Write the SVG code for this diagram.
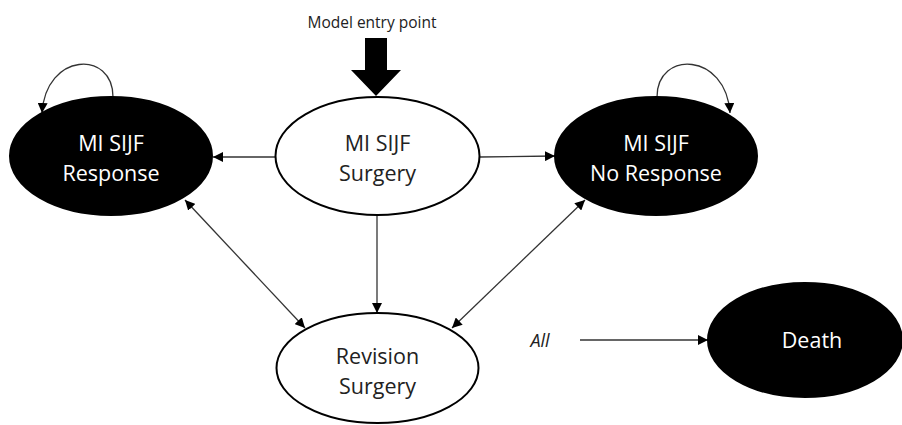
<svg xmlns="http://www.w3.org/2000/svg" width="902" height="425" viewBox="0 0 902 425">
<defs>
<marker id="ah" viewBox="0 0 10 10" refX="10" refY="5" markerWidth="10" markerHeight="10" markerUnits="userSpaceOnUse" orient="auto-start-reverse">
<path d="M0,0 L10,5 L0,10 z" fill="#000"/>
</marker>
<style>
.dark{fill:#000;stroke:#000;stroke-width:2}
.light{fill:#fff;stroke:#000;stroke-width:2}
.lbl{font-family:"Open Sans","Liberation Sans",sans-serif;font-size:21.5px;text-anchor:middle}
.wt{fill:#fff}
.bk{fill:#222}
.conn{stroke:#333;stroke-width:1.3;fill:none}
</style>
</defs>
<rect width="902" height="425" fill="#fff"/>
<g id="entry">
<text x="372" y="28" font-family="'Open Sans','Liberation Sans',sans-serif" font-size="15.5" text-anchor="middle" fill="#222">Model entry point</text>
<path d="M365,38 L387,38 L387,70 L401,70 L376,96 L351,70 L365,70 z" fill="#000"/>
</g>
<g id="connectors">
<path class="conn" d="M275,157 L213,157" marker-end="url(#ah)"/>
<path class="conn" d="M480,157 L555,156" marker-end="url(#ah)"/>
<path class="conn" d="M377,215 L377,313" marker-end="url(#ah)"/>
<path class="conn" d="M185,200 L305,328" marker-start="url(#ah)" marker-end="url(#ah)"/>
<path class="conn" d="M585,200 L452,328" marker-start="url(#ah)" marker-end="url(#ah)"/>
<path class="conn" d="M113,97 C113,50 46,52 42,113" marker-end="url(#ah)"/>
<path class="conn" d="M657,97 C657,50 726,52 730,113" marker-end="url(#ah)"/>
<path class="conn" d="M580,340 L708,340" marker-end="url(#ah)"/>
</g>
<g id="response">
<ellipse class="dark" cx="111" cy="156" rx="101" ry="59"/>
<text class="lbl wt" x="111" y="151">MI SIJF</text>
<text class="lbl wt" x="111" y="181">Response</text>
</g>
<g id="surgery">
<ellipse class="light" cx="377.5" cy="156" rx="102" ry="59"/>
<text class="lbl bk" x="377.5" y="151">MI SIJF</text>
<text class="lbl bk" x="377.5" y="181">Surgery</text>
</g>
<g id="noresponse">
<ellipse class="dark" cx="656" cy="156" rx="101" ry="59"/>
<text class="lbl wt" x="656" y="151">MI SIJF</text>
<text class="lbl wt" x="656" y="181">No Response</text>
</g>
<g id="revision">
<ellipse class="light" cx="377.5" cy="368" rx="101" ry="55"/>
<text class="lbl bk" x="377.5" y="364">Revision</text>
<text class="lbl bk" x="377.5" y="394">Surgery</text>
</g>
<g id="death">
<ellipse class="dark" cx="805" cy="340" rx="97" ry="57"/>
<text class="lbl wt" x="812" y="348">Death</text>
</g>
<g id="all">
<text x="540" y="347" font-family="'Open Sans','Liberation Sans',sans-serif" font-size="18" font-style="italic" text-anchor="middle" fill="#222">All</text>
</g>
</svg>
